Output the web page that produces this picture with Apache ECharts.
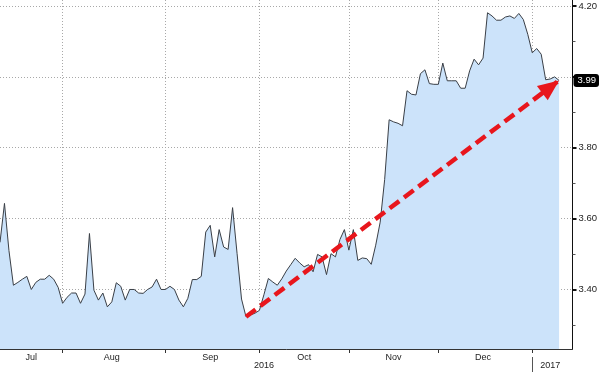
<!DOCTYPE html>
<html><head><meta charset="utf-8">
<script src="https://cdn.jsdelivr.net/npm/echarts@6/dist/echarts.min.js"></script>
<style>html,body{margin:0;padding:0;background:#fff}#c{width:600px;height:372px}</style>
</head><body><div id="c"></div>
<script>
// Trading days (last three are empty room on the axis after the final print)
const dates = [
 '2016-07-12','2016-07-13','2016-07-14','2016-07-15','2016-07-18','2016-07-19','2016-07-20','2016-07-21','2016-07-22','2016-07-25','2016-07-26','2016-07-27','2016-07-28','2016-07-29',
 '2016-08-01','2016-08-02','2016-08-03','2016-08-04','2016-08-05','2016-08-08','2016-08-09','2016-08-10','2016-08-11','2016-08-12','2016-08-15','2016-08-16','2016-08-17','2016-08-18','2016-08-19','2016-08-22','2016-08-23','2016-08-24','2016-08-25','2016-08-26','2016-08-29','2016-08-30','2016-08-31',
 '2016-09-01','2016-09-02','2016-09-06','2016-09-07','2016-09-08','2016-09-09','2016-09-12','2016-09-13','2016-09-14','2016-09-15','2016-09-16','2016-09-19','2016-09-20','2016-09-21','2016-09-22','2016-09-23','2016-09-26','2016-09-27','2016-09-28','2016-09-29','2016-09-30',
 '2016-10-03','2016-10-04','2016-10-05','2016-10-06','2016-10-07','2016-10-11','2016-10-12','2016-10-13','2016-10-14','2016-10-17','2016-10-18','2016-10-19','2016-10-20','2016-10-21','2016-10-24','2016-10-25','2016-10-26','2016-10-27','2016-10-28','2016-10-31',
 '2016-11-01','2016-11-02','2016-11-03','2016-11-04','2016-11-07','2016-11-08','2016-11-09','2016-11-10','2016-11-14','2016-11-15','2016-11-16','2016-11-17','2016-11-18','2016-11-21','2016-11-22','2016-11-23','2016-11-25','2016-11-28','2016-11-29','2016-11-30',
 '2016-12-01','2016-12-02','2016-12-05','2016-12-06','2016-12-07','2016-12-08','2016-12-09','2016-12-12','2016-12-13','2016-12-14','2016-12-15','2016-12-16','2016-12-19','2016-12-20','2016-12-21','2016-12-22','2016-12-23','2016-12-27','2016-12-28','2016-12-29','2016-12-30',
 '2017-01-03','2017-01-04','2017-01-05','2017-01-06','2017-01-09','2017-01-10','2017-01-11','2017-01-12','2017-01-13','2017-01-17'
];
const values = [
 3.533,3.643,3.510,3.412,3.420,3.429,3.437,3.400,3.420,3.429,3.429,3.440,3.429,3.406,
 3.361,3.378,3.390,3.390,3.361,3.387,3.558,3.398,3.370,3.390,3.351,3.365,3.419,3.409,3.370,3.400,3.400,3.390,3.389,3.400,3.407,3.429,3.400,
 3.400,3.409,3.400,3.370,3.351,3.375,3.428,3.428,3.437,3.562,3.581,3.492,3.569,3.520,3.513,3.631,3.502,3.373,3.323,3.328,3.333,
 3.341,3.385,3.431,3.421,3.412,3.430,3.452,3.470,3.488,3.475,3.464,3.470,3.450,3.499,3.492,3.442,3.501,3.492,3.541,3.569,
 3.511,3.569,3.482,3.489,3.487,3.471,3.525,3.590,3.710,3.879,3.873,3.869,3.862,3.961,3.951,3.949,4.009,4.020,3.981,3.979,
 3.979,4.039,3.989,3.989,3.989,3.968,3.968,4.017,4.050,4.034,4.053,4.181,4.172,4.160,4.160,4.169,4.172,4.165,4.179,4.162,4.120,
 4.068,4.080,4.064,3.992,3.994,4.000,3.990
];
const yTicks = [3.40, 3.60, 3.80, 4.00, 4.20];
const yMinorTicks = [3.30, 3.50, 3.70, 3.90, 4.10];
const yMin = 3.232, yMax = 4.217;
const monthAbbr = ['Jan','Feb','Mar','Apr','May','Jun','Jul','Aug','Sep','Oct','Nov','Dec'];

function segments(keyFn) {
  const segs = []; let s = 0;
  for (let i = 1; i <= dates.length; i++) {
    if (i === dates.length || keyFn(dates[i]) !== keyFn(dates[i-1])) {
      segs.push({start: s, end: i === dates.length ? i - 1 : i, key: keyFn(dates[s])});
      s = i;
    }
  }
  return segs;
}
const monthSegs = segments(d => d.slice(0, 7));
const yearSegs = segments(d => d.slice(0, 4));
const monthStarts = new Set(monthSegs.slice(1).map(s => s.start));
const yearStarts = new Set(yearSegs.slice(1).map(s => s.start));
const monthLabelIdx = new Map();
monthSegs.forEach(s => { if (s.key.slice(5) !== '01') monthLabelIdx.set(Math.floor((s.start + s.end) / 2), monthAbbr[+s.key.slice(5) - 1]); });
const yearLabelIdx = new Map();
yearSegs.forEach(s => yearLabelIdx.set(Math.floor((s.start + s.end) / 2), s.key));

let minIdx = 0;
values.forEach((v, i) => { if (v < values[minIdx]) minIdx = i; });
const lastIdx = values.length - 1;

const font = 'Liberation Sans, Arial, sans-serif';
const chart = echarts.init(document.getElementById('c'));
chart.setOption({
  animation: false,
  grid: {left: 0, right: 26, top: 0, bottom: 23},
  xAxis: [{
    type: 'category', data: dates, boundaryGap: false, position: 'bottom',
    axisLine: {show: true, lineStyle: {color: '#333', width: 1}},
    axisTick: {show: true, interval: i => monthStarts.has(i), length: 4, lineStyle: {color: '#333'}},
    axisLabel: {interval: i => monthLabelIdx.has(i), formatter: (v, i) => monthLabelIdx.get(i) || '',
      color: '#222', fontSize: 9, margin: 4, fontFamily: font},
    splitLine: {show: true, interval: i => monthStarts.has(i), lineStyle: {color: '#a8a8a8', type: [1, 2], width: 1}}
  }, {
    type: 'category', data: dates, boundaryGap: false, position: 'bottom', offset: 8,
    axisLine: {show: false},
    axisTick: {show: true, interval: i => yearStarts.has(i), length: 15, lineStyle: {color: '#555'}},
    axisLabel: {interval: i => yearLabelIdx.has(i), formatter: (v, i) => yearLabelIdx.get(i) || '',
      color: '#222', fontSize: 9, margin: 4, fontFamily: font},
    splitLine: {show: false}
  }],
  yAxis: [{
    type: 'value', position: 'right', min: yMin, max: yMax,
    axisLine: {show: true, lineStyle: {color: '#111', width: 1}},
    axisTick: {show: true, customValues: yTicks, length: 4, lineStyle: {color: '#111', width: 2}},
    axisLabel: {customValues: yTicks, formatter: v => v.toFixed(2), color: '#222', fontSize: 9.5, margin: 6, fontFamily: font},
    splitLine: {show: true, lineStyle: {color: '#a8a8a8', type: [1, 2], width: 1}}
  }, {
    type: 'value', position: 'right', min: yMin, max: yMax,
    axisLine: {show: false},
    axisTick: {show: true, customValues: yMinorTicks, length: 3, lineStyle: {color: '#555'}},
    axisLabel: {show: false}, splitLine: {show: false}
  }],
  series: [{
    type: 'line', data: values, xAxisIndex: 0, yAxisIndex: 0,
    symbol: 'none', showSymbol: false,
    lineStyle: {color: '#3a3f46', width: 1},
    areaStyle: {color: '#cce3fa', opacity: 1},
    markLine: {
      silent: true, animation: false, symbol: ['none', 'none'], z: 10,
      lineStyle: {color: '#e8161c', width: 4.5, type: [12, 6]},
      label: {show: false},
      data: [
        [{coord: [dates[minIdx], values[minIdx]], symbol: 'none'},
         {coord: [dates[lastIdx], values[lastIdx]], symbol: 'triangle', symbolSize: [18, 21], symbolOffset: [0, '50%']}],
        {yAxis: values[lastIdx], symbol: 'none', lineStyle: {color: 'rgba(0,0,0,0)', width: 1, type: 'solid'},
         label: {show: true, position: 'end', distance: 1, formatter: values[lastIdx].toFixed(2),
           color: '#fff', backgroundColor: '#000', padding: [2, 3, 1, 4], borderRadius: 3, fontSize: 9.5, fontFamily: font}}
      ]
    }
  }]
});
</script></body></html>
